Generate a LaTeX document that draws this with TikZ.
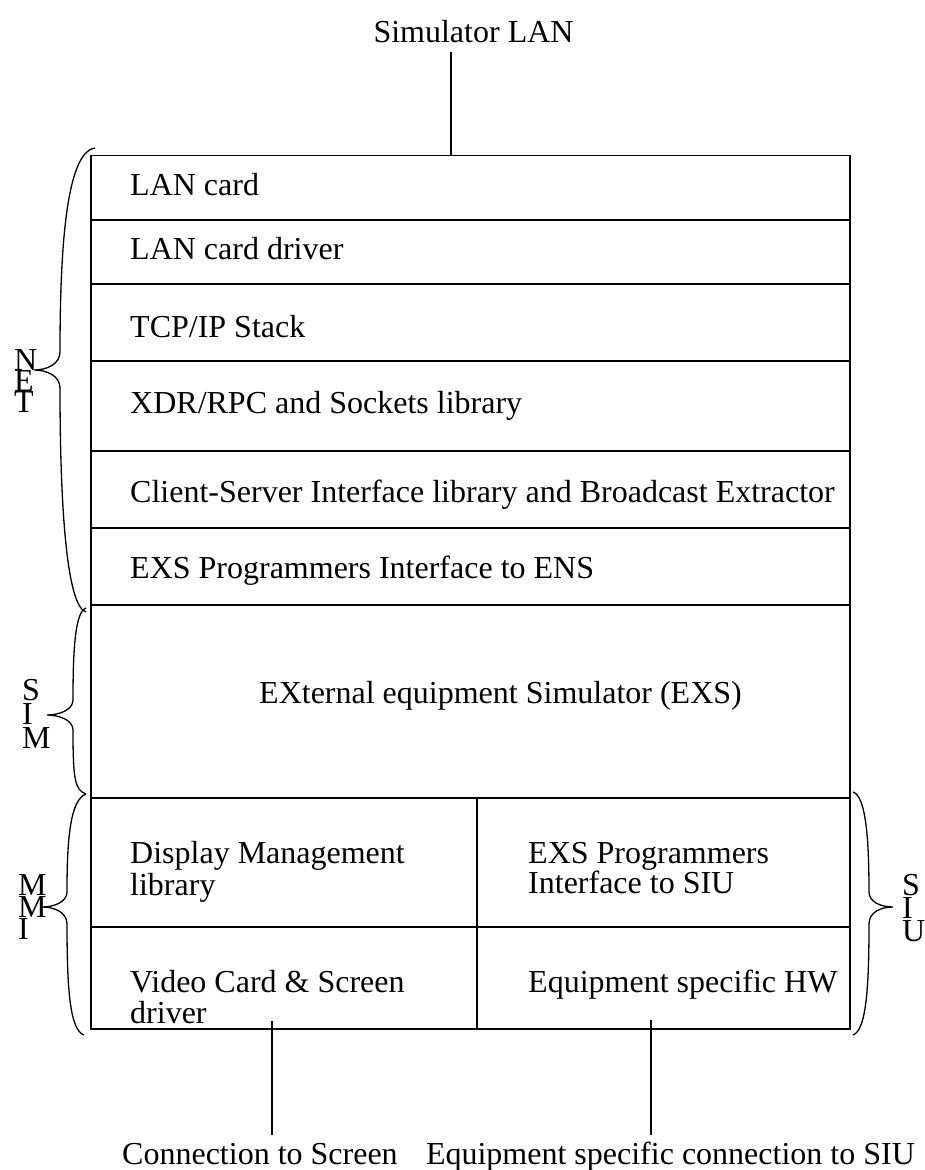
\documentclass[tikz,border=0pt]{standalone}
\usepackage{fontspec}
\setmainfont{Liberation Serif}
\begin{document}
\begin{tikzpicture}[x=1pt,y=-1pt,
  frame/.style={line width=1.8pt},
  bracket/.style={line width=1.3pt},
  link/.style={line width=1.5pt},
  lbl/.style={font=\fontsize{32}{32}\selectfont, inner sep=0pt, anchor=base west},
  letter/.style={font=\fontsize{32}{32}\selectfont, inner sep=0pt, anchor=base west}]
\useasboundingbox (0,0) rectangle (925,1170);

% outer frame and layer separators
\coordinate (tl) at (91,155.5);
\coordinate (br) at (850,1029);
\draw[frame] (tl) rectangle (br);
\foreach \y in {220,284,361,451,528,605,798,927}
  \draw[frame] (91,\y) -- (850,\y);
\coordinate (splittop) at (477,798);
\coordinate (splitbot) at (477,1029);
\draw[frame] (splittop) -- (splitbot);

% layer labels
\node[lbl] (lancard)  at (130,195) {LAN card};
\node[lbl] (landrv)   at (130,259) {LAN card driver};
\node[lbl] (tcpip)    at (130,337) {TCP/IP Stack};
\node[lbl] (xdr)      at (130,413) {XDR/RPC and Sockets library};
\node[lbl] (csi)      at (130,502) {Client-Server Interface library and Broadcast Extractor};
\node[lbl] (exsens)   at (130,578) {EXS Programmers Interface to ENS};
\node[lbl] (exs)      at (259,703) {EXternal equipment Simulator (EXS)};
\node[lbl] (dml)      at (130,863) {\vtop{\baselineskip=32pt\hbox{Display Management}\hbox{library}}};
\node[lbl] (exssiu)   at (528,863) {\vtop{\baselineskip=27pt\hbox{EXS Programmers}\hbox{Interface to SIU}}};
\node[lbl] (video)    at (130,992) {\vtop{\baselineskip=31pt\hbox{Video Card \& Screen}\hbox{driver}}};
\node[lbl] (hw)       at (528,992) {Equipment specific HW};

% group braces
\draw[bracket] (95,148) .. controls (66,152) and (60,250) .. (60,352)
  .. controls (60,364) and (47,370) .. (34,370)
  .. controls (47,370) and (60,376) .. (60,388)
  .. controls (60,500) and (66,606) .. (86,612);
\draw[bracket] (86,608) .. controls (75,612) and (73,650) .. (73,700)
  .. controls (73,710) and (59,715) .. (47,715)
  .. controls (59,715) and (73,720) .. (73,730)
  .. controls (73,780) and (75,790) .. (86,794);
\draw[bracket] (86,794) .. controls (70,800) and (67,840) .. (67,892)
  .. controls (67,902) and (54,907) .. (42,907)
  .. controls (54,907) and (67,912) .. (67,924)
  .. controls (67,990) and (70,1030) .. (84,1035);
\draw[bracket] (853,792) .. controls (866,796) and (869,840) .. (869,892)
  .. controls (869,902) and (881,907) .. (893,907)
  .. controls (881,907) and (869,912) .. (869,924)
  .. controls (869,990) and (866,1030) .. (853,1035);

% stacked group names
\foreach \c [count=\i] in {N,E,T}
  \node[letter] (net\i) at (14,370+21*\i-21) {\c};
\foreach \c [count=\i] in {S,I,M}
  \node[letter] (sim\i) at (22,700+24*\i-24) {\c};
\foreach \c [count=\i] in {M,M,I}
  \node[letter] (mmi\i) at (18,895+22*\i-22) {\c};
\foreach \c [count=\i] in {S,I,U}
  \node[letter] (siu\i) at (902,895+23*\i-23) {\c};

% external connections
\node[lbl, anchor=base] (simlan) at (473.5,42) {Simulator LAN};
\coordinate (lanup) at (451,52);
\coordinate (landown) at (451,155.5);
\draw[link] (lanup) -- (landown);

\node[lbl] (conscr) at (122,1164) {Connection to Screen};
\coordinate (scrup) at (272,1021);
\coordinate (scrdown) at (272,1135);
\draw[link] (scrup) -- (scrdown);

\node[lbl, anchor=base east] (consiu) at (915,1164) {Equipment specific connection to SIU};
\coordinate (siuup) at (651,1020);
\coordinate (siudown) at (651,1135);
\draw[link] (siuup) -- (siudown);
\end{tikzpicture}
\end{document}
